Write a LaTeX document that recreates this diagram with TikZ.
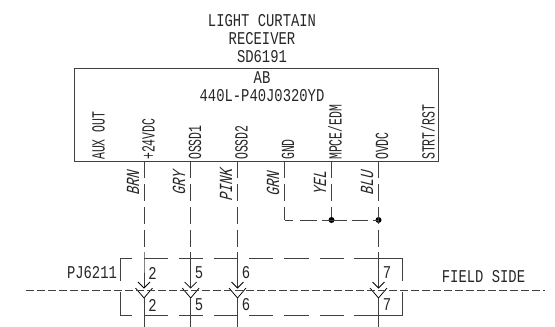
\documentclass[tikz,border=0pt]{standalone}
\usepackage{fontspec}
\newfontfamily\cadfont[FakeStretch=0.77]{Liberation Mono}
\newfontfamily\cadnarrow[FakeStretch=0.62]{Liberation Mono}
\newfontfamily\caditalic[FakeStretch=0.72,FakeSlant=0.25]{Liberation Mono}
\tikzset{
  cad/.style={inner sep=0pt,font=\cadfont\fontsize{18}{18}\selectfont,text=black!85},
  pinlabel/.style={inner sep=0pt,rotate=90,anchor=west,font=\cadnarrow\fontsize{18.5}{18.5}\selectfont,text=black!85},
  wirelabel/.style={inner sep=0pt,rotate=90,anchor=west,font=\caditalic\fontsize{18.5}{18.5}\selectfont,text=black!85},
  wire/.style={line width=0.75pt,draw=black!75},
  wiredash/.style={wire,dash pattern=on 17pt off 6pt},
  mainline/.style={line width=0.75pt,draw=black!75,dash pattern=on 8pt off 3pt},
  dot/.style={circle,fill=black,inner sep=0pt,minimum size=6pt},
  tip/.style={line width=0.75pt,draw=black}
}
\begin{document}
\begin{tikzpicture}[x=1pt,y=-1pt]
\useasboundingbox (0,0) rectangle (555,327);
% titles
\node[cad] (t1) at (262,21) {LIGHT CURTAIN};
\node[cad] (t2) at (262,39) {RECEIVER};
\node[cad] (t3) at (262,57) {SD6191};
\node[cad] (t4) at (262,78) {AB};
\node[cad] (t5) at (262,96) {440L-P40J0320YD};
% box
\node[draw=black!75,line width=0.8pt,minimum width=364pt,minimum height=93.5pt,anchor=north west,inner sep=0pt] (box) at (74,67.5) {};
% pin labels
\node[pinlabel] (p0) at (98.5,160) {AUX OUT};
\node[pinlabel] (p1) at (148.5,160) {+24VDC};
\node[pinlabel] (p2) at (195,160) {OSSD1};
\node[pinlabel] (p3) at (241.5,160) {OSSD2};
\node[pinlabel] (p4) at (288,160) {GND};
\node[pinlabel] (p5) at (335,160) {MPCE/EDM};
\node[pinlabel] (p6) at (382,160) {OVDC};
\node[pinlabel] (p7) at (428,160) {STRT/RST};
% wire labels
\node[wirelabel] (w1) at (133,196) {BRN};
\node[wirelabel] (w2) at (179,196) {GRY};
\node[wirelabel] (w3) at (226,202) {PINK};
\node[wirelabel] (w4) at (273,197) {GRN};
\node[wirelabel] (w5) at (320,196) {YEL};
\node[wirelabel] (w6) at (367,196) {BLU};
% anchors on box bottom
\coordinate (a1) at (144,161);
\coordinate (a2) at (190.7,161);
\coordinate (a3) at (237.5,161);
\coordinate (a4) at (284.5,161);
\coordinate (a5) at (331.5,161);
\coordinate (a6) at (378.5,161);
% tips
\coordinate (b1) at (144,288);
\coordinate (b2) at (190.7,288);
\coordinate (b3) at (237.5,288);
\coordinate (b6) at (378.5,288);
% junctions
\node[dot] (j5) at (331.5,220) {};
\node[dot] (j6) at (378.5,220) {};
\coordinate (c4) at (284.5,220);
% wires
\draw[wiredash] (a1) -- (144,252);
\draw[wiredash] (a2) -- (190.7,252);
\draw[wiredash] (a3) -- (237.5,252);
\draw[wiredash] (a6) -- (378.5,252);
\draw[wiredash] (a5) -- (j5);
\draw[wiredash] (a4) -- (c4);
\draw[wire] (c4) -- (293,220) (300,220) -- (317,220) (322,220) -- (347,220) (352,220) -- (368,220) (373,220) -- (378.5,220);
% connector outline
\draw[wire] (132,258) -- (120.7,258) -- (120.7,280.5);
\draw[wire] (132,315.7) -- (120.7,315.7) -- (120.7,292);
\draw[wire] (144,258) -- (168,258) (179,258) -- (203,258) (214,258) -- (238,258) (249,258) -- (273,258) (284,258) -- (309,258) (320,258) -- (344,258) (354,258) -- (402,258) -- (402,281);
\draw[wire] (144,315.7) -- (168,315.7) (179,315.7) -- (203,315.7) (214,315.7) -- (238,315.7) (249,315.7) -- (273,315.7) (284,315.7) -- (309,315.7) (320,315.7) -- (344,315.7) (354,315.7) -- (402,315.7) -- (402,292);
% ticks across bracket at pins
\foreach \n/\x in {1/144,2/190.7,3/237.5,6/378.5}{
  \draw[wire] (\x,252) -- (\x,258) -- (b\n);
  \draw[tip] (\x-6,282) -- (b\n) -- (\x+6,282);
  \draw[tip] (\x-8.5,288) -- (\x,298) -- (\x+8.5,288);
  \draw[wire] (\x,298) -- (\x,327);
}
% main line
\coordinate (m1) at (26,290.7);
\coordinate (m2) at (545,290.7);
\draw[mainline] (m1) -- (m2);
% pin numbers
\node[cad] (n1) at (152.5,273) {2};
\node[cad] (n2) at (199,273) {5};
\node[cad] (n3) at (246,273) {6};
\node[cad] (n4) at (387,273) {7};
\node[cad] (n5) at (152.5,305) {2};
\node[cad] (n6) at (199,305) {5};
\node[cad] (n7) at (246,305) {6};
\node[cad] (n8) at (387,305) {7};
% side labels
\node[cad] (pj) at (92,273) {PJ6211};
\node[cad] (fs) at (483.5,277) {FIELD SIDE};
\end{tikzpicture}
\end{document}
